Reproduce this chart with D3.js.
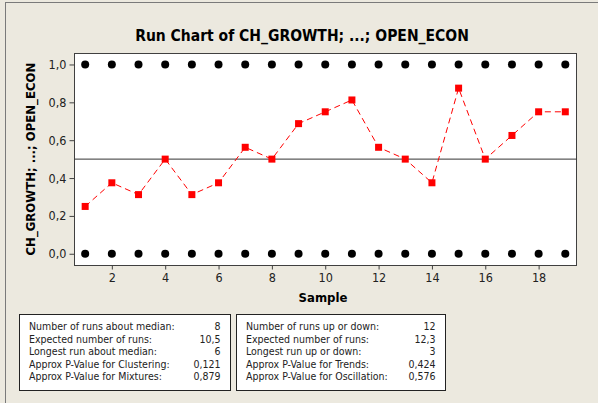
<!DOCTYPE html>
<html>
<head>
<meta charset="utf-8">
<script src="https://cdn.jsdelivr.net/npm/d3@7"></script>
<style>
  html, body { margin: 0; padding: 0; background: #ece9df; }
  svg { display: block; }
</style>
</head>
<body>
<div id="chart"></div>
<script>
// Sample numbers and the plotted values
const samples = [1, 2, 3, 4, 5, 6, 7, 8, 9, 10, 11, 12, 13, 14, 15, 16, 17, 18, 19];
const openEcon = [0.25, 0.375, 0.3125, 0.5, 0.3125, 0.375, 0.5625, 0.5, 0.6875, 0.75,
  0.8125, 0.5625, 0.5, 0.375, 0.875, 0.5, 0.625, 0.75, 0.75];
// the other (0/1) series shown as black dots
const lowSeries = [0, 0, 0, 0, 0, 0, 0, 0, 0, 0, 0, 0, 0, 0, 0, 0, 0, 0, 0];
const highSeries = [1, 1, 1, 1, 1, 1, 1, 1, 1, 1, 1, 1, 1, 1, 1, 1, 1, 1, 1];
const median = 0.5;

const xTicks = [2, 4, 6, 8, 10, 12, 14, 16, 18];
const yTicks = [0, 0.2, 0.4, 0.6, 0.8, 1.0];

// statistics boxes
const medianLabels = ["Number of runs about median:", "Expected number of runs:",
  "Longest run about median:", "Approx P-Value for Clustering:", "Approx P-Value for Mixtures:"];
const medianValues = ["8", "10,5", "6", "0,121", "0,879"];
const updownLabels = ["Number of runs up or down:", "Expected number of runs:",
  "Longest run up or down:", "Approx P-Value for Trends:", "Approx P-Value for Oscillation:"];
const updownValues = ["12", "12,3", "3", "0,424", "0,576"];

const W = 598, H = 403;
const font = "'DejaVu Sans Condensed', 'Liberation Sans', sans-serif";
const margin = { left: 74.5, right: 21.5, top: 53.5, bottom: 137.5 };

const svg = d3.select("#chart").append("svg")
  .attr("width", W).attr("height", H)
  .style("font-family", font);

// background and outer frame
svg.append("rect").attr("width", W).attr("height", H).attr("fill", "#ece9df");
svg.append("rect")
  .attr("x", 5.5).attr("y", 2.5).attr("width", W + 10).attr("height", H + 10)
  .attr("fill", "none").attr("stroke", "#7a7a7a");

const x = d3.scaleLinear().domain([0.6, 19.42]).range([margin.left, W - margin.right]);
const y = d3.scaleLinear().domain([-0.062, 1.058]).range([H - margin.bottom, margin.top]);

// plot area
svg.append("rect")
  .attr("x", margin.left).attr("y", margin.top)
  .attr("width", W - margin.left - margin.right)
  .attr("height", H - margin.top - margin.bottom)
  .attr("fill", "#fff").attr("stroke", "#404040");

// axes
const fmt = (d) => d3.format(".1f")(d).replace(".", ",");
const yAxis = svg.append("g")
  .attr("transform", `translate(${margin.left},0)`)
  .call(d3.axisLeft(y).tickValues(yTicks).tickFormat(fmt).tickSize(5).tickPadding(3));
const xAxis = svg.append("g")
  .attr("transform", `translate(0,${H - margin.bottom})`)
  .call(d3.axisBottom(x).tickValues(xTicks).tickSize(4).tickPadding(4));
[xAxis, yAxis].forEach((g) => {
  g.select(".domain").remove();
  g.selectAll(".tick line").attr("stroke", "#404040");
  g.selectAll(".tick text").attr("fill", "#222").style("font-size", "12.5px")
    .style("font-family", font);
});

// median reference line
svg.append("line")
  .attr("x1", margin.left).attr("x2", W - margin.right)
  .attr("y1", y(median)).attr("y2", y(median))
  .attr("stroke", "#333").attr("stroke-width", 1);

// black dots for the 0/1 series
[lowSeries, highSeries].forEach((vals) => {
  svg.append("g").selectAll("circle")
    .data(vals)
    .join("circle")
    .attr("cx", (d, i) => x(samples[i]))
    .attr("cy", (d) => y(d))
    .attr("r", 4)
    .attr("fill", "#000");
});

// red dashed run line
svg.append("path")
  .datum(openEcon)
  .attr("fill", "none")
  .attr("stroke", "#ff0000")
  .attr("stroke-width", 1)
  .attr("stroke-dasharray", "6,4")
  .attr("d", d3.line().x((d, i) => x(samples[i])).y((d) => y(d)));

const sq = 7;
svg.append("g").selectAll("rect")
  .data(openEcon)
  .join("rect")
  .attr("x", (d, i) => x(samples[i]) - sq / 2)
  .attr("y", (d) => y(d) - sq / 2)
  .attr("width", sq).attr("height", sq)
  .attr("fill", "#ff0000");

// titles
svg.append("text")
  .attr("x", 302).attr("y", 41)
  .attr("text-anchor", "middle")
  .style("font-size", "15.5px").style("font-weight", "bold")
  .text("Run Chart of CH_GROWTH; ...; OPEN_ECON");

svg.append("text")
  .attr("x", 323).attr("y", 302)
  .attr("text-anchor", "middle")
  .style("font-size", "13px").style("font-weight", "bold")
  .text("Sample");

svg.append("text")
  .attr("transform", `translate(35,${y(median)}) rotate(-90)`)
  .attr("text-anchor", "middle")
  .style("font-size", "13px").style("font-weight", "bold")
  .text("CH_GROWTH; ...; OPEN_ECON");

// statistics boxes
function statBox(x0, x1, labels, values) {
  const top = 314.5, bottom = 390.5;
  svg.append("rect")
    .attr("x", x0).attr("y", top)
    .attr("width", x1 - x0).attr("height", bottom - top)
    .attr("fill", "#fff").attr("stroke", "#222");
  const g = svg.append("g").style("font-size", "10.5px").attr("fill", "#222");
  labels.forEach((t, i) => {
    g.append("text").attr("x", x0 + 9.5).attr("y", 330 + i * 12.5).text(t);
    g.append("text").attr("x", x1 - 10).attr("y", 330 + i * 12.5)
      .attr("text-anchor", "end").text(values[i]);
  });
}
statBox(19.5, 230.5, medianLabels, medianValues);
statBox(236.5, 445.5, updownLabels, updownValues);
</script>
</body>
</html>
